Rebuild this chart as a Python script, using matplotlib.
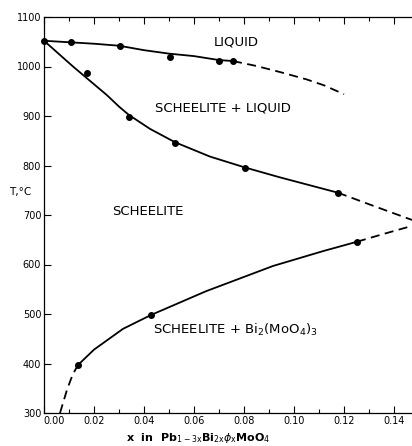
import matplotlib
matplotlib.use("Agg")
import matplotlib.pyplot as plt
from matplotlib.ticker import MultipleLocator

# measured points
liq_pts_x = [0.0, 0.0108, 0.0304, 0.0504, 0.070, 0.0756]
liq_pts_y = [1052, 1049, 1041, 1019, 1011, 1011]
sol_pts_x = [0.0172, 0.034, 0.0524, 0.0804, 0.1176]
sol_pts_y = [987, 898, 845, 795, 744]
solv_pts_x = [0.0136, 0.0428, 0.1252]
solv_pts_y = [397, 498, 646]

# drawn boundaries
liq_x = [0.0, 0.01, 0.02, 0.03, 0.04, 0.05, 0.06, 0.065, 0.07, 0.0756]
liq_y = [1052, 1049, 1046, 1042, 1033, 1026, 1021, 1017, 1013, 1011]
liq_ext_x = [0.0756, 0.085, 0.095, 0.105, 0.112, 0.12]
liq_ext_y = [1011, 1001, 988, 974, 962, 944]

sol_x = [0.0, 0.0116, 0.0252, 0.030, 0.034, 0.0424, 0.0524, 0.0664, 0.0804, 0.0944, 0.1176]
sol_y = [1052, 1000, 942, 919, 902, 874, 847, 818, 796, 776, 745]
sol_ext_x = [0.1176, 0.132, 0.1472]
sol_ext_y = [745, 718, 690]

solv_x = [0.0136, 0.02, 0.0316, 0.0428, 0.0648, 0.0916, 0.1116, 0.1252]
solv_y = [397, 428, 470, 498, 546, 597, 627, 646]
solv_ext_lo_x = [0.0064, 0.0092, 0.0115, 0.0136]
solv_ext_lo_y = [300, 347, 378, 397]
solv_ext_hi_x = [0.1252, 0.136, 0.1472]
solv_ext_hi_y = [646, 662, 678]

yticks = [300, 400, 500, 600, 700, 800, 900, 1000, 1100]
xticks = [0.00, 0.02, 0.04, 0.06, 0.08, 0.10, 0.12, 0.14]

fig = plt.figure(figsize=(4.12, 4.46), dpi=100)
ax = fig.add_axes([44/412, 1-413/446, 1-44/412, (413-17)/446])

lw = 1.3
for xs, ys in [(liq_x, liq_y), (sol_x, sol_y), (solv_x, solv_y)]:
    ax.plot(xs, ys, color='black', lw=lw)
for xs, ys in [(liq_ext_x, liq_ext_y), (sol_ext_x, sol_ext_y),
               (solv_ext_lo_x, solv_ext_lo_y), (solv_ext_hi_x, solv_ext_hi_y)]:
    ax.plot(xs, ys, color='black', lw=lw, dashes=(5, 3))

for xs, ys in [(liq_pts_x, liq_pts_y), (sol_pts_x, sol_pts_y), (solv_pts_x, solv_pts_y)]:
    ax.plot(xs, ys, 'o', color='black', ms=4, clip_on=False)

ax.set_xlim(0, 0.1472)
ax.set_ylim(300, 1100)
ax.set_xticks(xticks)
# first label is drawn separately, nudged right of the axis corner
ax.set_xticklabels([''] + ['%.2f' % v for v in xticks[1:]])
ax.annotate('%.2f' % xticks[0], xy=(xticks[0], 0), xycoords=('data', 'axes fraction'),
            xytext=(7, -2), textcoords='offset points', ha='center', va='top', fontsize=7)
ax.xaxis.set_minor_locator(MultipleLocator(0.01))
ax.set_yticks(yticks)
ax.tick_params(direction='in', length=5, width=0.8, labelsize=7, top=True, pad=2)
ax.tick_params(which='minor', direction='in', length=3, width=0.8, top=True)
ax.spines['right'].set_visible(False)
for s in ['left', 'bottom', 'top']:
    ax.spines[s].set_linewidth(0.9)

fs = 9.5
ax.text(0.0768, 1049, 'LIQUID', fontsize=fs, ha='center', va='center')
ax.text(0.0716, 916, 'SCHEELITE + LIQUID', fontsize=fs, ha='center', va='center')
ax.text(0.0416, 708, 'SCHEELITE', fontsize=fs, ha='center', va='center')
ax.text(0.0764, 468, r'SCHEELITE + Bi$_2$(MoO$_4$)$_3$', fontsize=fs, ha='center', va='center')

fig.text(20/412, 1-192/446, 'T,°C', fontsize=7.5, ha='center', va='center')
fig.text(198/412, 1-438/446, r'x  in  Pb$_{\mathrm{1-3x}}$Bi$_{\mathrm{2x}}$$\phi_{\mathrm{x}}$MoO$_4$',
         fontsize=8, fontweight='bold', ha='center', va='center')

fig.savefig('out.png', dpi=100)
